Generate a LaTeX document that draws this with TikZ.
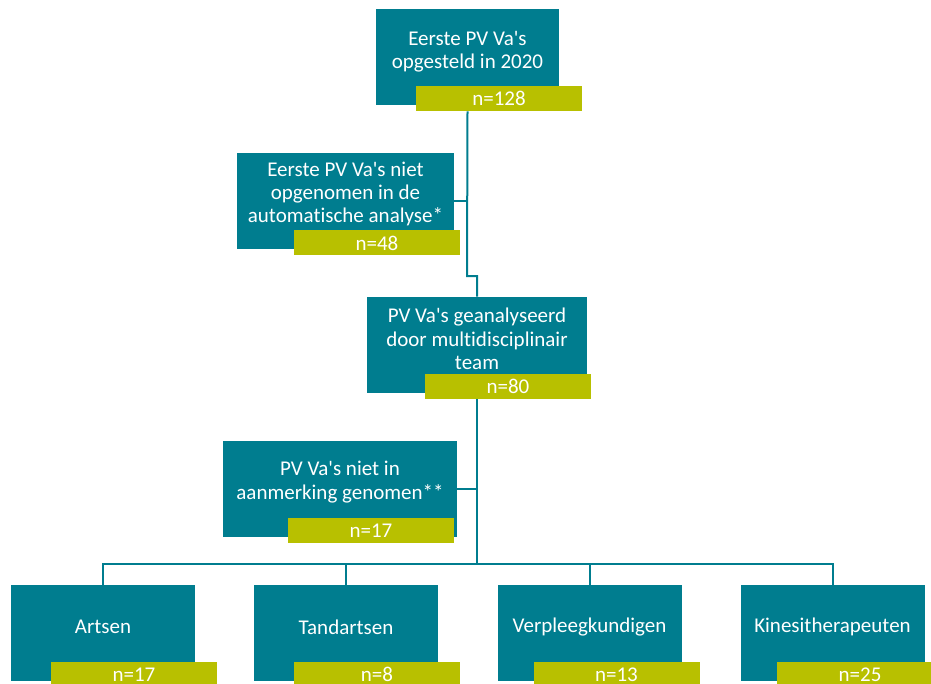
\documentclass[tikz,border=0pt]{standalone}
\usepackage{fontspec}
\setmainfont{Carlito}[Ligatures={TeXOff,NoCommon}]
\usepackage{xcolor}
\usepackage{tikz}

\definecolor{pvteal}{RGB}{0,125,143}
\definecolor{pvolive}{RGB}{184,192,0}

\begin{document}
\begin{tikzpicture}[
    x=0.75pt, y=-0.75pt,
    box/.style={rectangle, fill=pvteal, minimum height=72pt, inner sep=0pt},
    count/.style={rectangle, fill=pvolive, minimum height=18.75pt, minimum width=124.5pt, inner sep=0pt, text=white, font=\fontsize{15.75}{18}\selectfont},
    txt/.style={text=white, align=center, inner sep=0pt, font=\fontsize{15.75}{17.5}\selectfont},
    line/.style={draw=pvteal, line width=1.5pt}
]
\clip (0,0) rectangle (931,684);

% Boxes
\node[box, minimum width=137.25pt] (start) at (467.5,57) {};
\node[box, minimum width=162.75pt] (auto) at (345.5,201) {};
\node[box, minimum width=165pt] (team) at (477,345) {};
\node[box, minimum width=175.5pt] (notin) at (340,489) {};
\node[box, minimum width=138pt] (arts) at (103,633) {};
\node[box, minimum width=138pt] (tand) at (346,633) {};
\node[box, minimum width=138pt] (verpl) at (589.5,633) {};
\node[box, minimum width=138pt] (kine) at (832.5,633) {};

% Texts
\node[txt] (startt) at (467.5,51.5) {Eerste PV Va's\\opgesteld in 2020};
\node[txt] (autot) at (345.5,194) {Eerste PV Va's niet\\opgenomen in de\\automatische analyse*};
\node[txt] (teamt) at (477,339) {PV Va's geanalyseerd\\door multidisciplinair\\team};
\node[txt] (notint) at (340,482) {PV Va's niet in\\aanmerking genomen**};
\node[txt] (artst) at (103,627) {Artsen};
\node[txt] (tandt) at (346,627) {Tandartsen};
\node[txt] (verplt) at (589.5,627) {Verpleegkundigen};
\node[txt] (kinet) at (832.5,627) {Kinesitherapeuten};

% Counts
\node[count] (startn) at (499,98.5) {n=128};
\node[count] (auton) at (377,243) {n=48};
\node[count] (teamn) at (508,386.5) {n=80};
\node[count] (notinn) at (371,530.5) {n=17};
\node[count] (artsn) at (134,674.5) {n=17};
\node[count] (tandn) at (377,674.5) {n=8};
\node[count] (verpln) at (616.5,674.5) {n=13};
\node[count] (kinen) at (860,674.5) {n=25};

% Connectors
\coordinate (step1) at (467,276);
\coordinate (bar) at (477,564);
\draw[line] (start.center |- startn.south) -- (step1) -| (team.north);
\draw[line] (auto.east) -- (auto.east -| step1);
\draw[line] (team.center |- teamn.south) -- (bar);
\draw[line] (notin.east) -- (notin.east -| bar);
\draw[line] (bar) -| (arts.north);
\draw[line] (bar) -| (tand.north);
\draw[line] (bar) -| (verpl.north);
\draw[line] (bar) -| (kine.north);

\end{tikzpicture}
\end{document}
